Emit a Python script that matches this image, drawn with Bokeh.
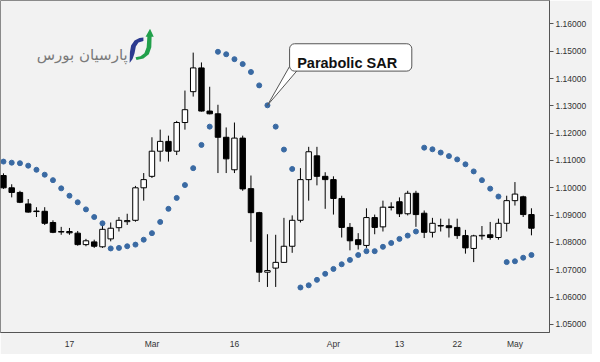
import pandas as pd
from bokeh.plotting import figure
from bokeh.models import (Range1d, FixedTicker, PrintfTickFormatter, ColumnDataSource,
                          Label, BoxAnnotation, PolyAnnotation)
from bokeh.embed import file_html
from bokeh.resources import INLINE

# ---------------- data ----------------
start_date = "2020-02-05"
end_date = "2020-05-05"

opens = [1.1045, 1.1000, 1.0983, 1.0941, 1.0915, 1.0914, 1.0873, 1.0838, 1.0840, 1.0834,
         1.0792, 1.0802, 1.0784, 1.0813, 1.0854, 1.0876, 1.0881, 1.1000, 1.1042, 1.1134,
         1.1170, 1.1134, 1.1239, 1.1352, 1.1439, 1.1281, 1.1271, 1.1185, 1.1066, 1.1182,
         1.0997, 1.0909, 1.0691, 1.0706, 1.0727, 1.0786, 1.0881, 1.1030, 1.1117, 1.1042,
         1.1030, 1.0961, 1.0855, 1.0810, 1.0789, 1.0891, 1.0857, 1.0928, 1.0949, 1.0905,
         1.0980, 1.0907, 1.0837, 1.0862, 1.0861, 1.0855, 1.0825, 1.0778, 1.0824, 1.0828,
         1.0818, 1.0870, 1.0953, 1.0967, 1.0902]
highs = [1.1053, 1.1013, 1.0989, 1.0959, 1.0929, 1.0929, 1.0881, 1.0857, 1.0853, 1.0842,
         1.0813, 1.0810, 1.0864, 1.0873, 1.0893, 1.0905, 1.1007, 1.1054, 1.1185, 1.1213,
         1.1191, 1.1245, 1.1356, 1.1495, 1.1459, 1.1370, 1.1304, 1.1221, 1.1239, 1.1191,
         1.1045, 1.0912, 1.0830, 1.0828, 1.0890, 1.0899, 1.1072, 1.1150, 1.1150, 1.1057,
         1.1042, 1.0971, 1.0871, 1.0834, 1.0925, 1.0902, 1.0953, 1.0947, 1.0965, 1.0989,
         1.0989, 1.0917, 1.0890, 1.0887, 1.0887, 1.0887, 1.0846, 1.0828, 1.0860, 1.0875,
         1.0887, 1.0971, 1.1021, 1.0971, 1.0925]
lows = [1.0996, 1.0965, 1.0944, 1.0909, 1.0893, 1.0864, 1.0834, 1.0828, 1.0828, 1.0788,
        1.0786, 1.0780, 1.0780, 1.0804, 1.0840, 1.0864, 1.0876, 1.0953, 1.1036, 1.1096,
        1.1096, 1.1120, 1.1213, 1.1334, 1.1279, 1.1269, 1.1054, 1.1054, 1.1054, 1.0989,
        1.0802, 1.0655, 1.0637, 1.0637, 1.0725, 1.0762, 1.0873, 1.0953, 1.1009, 1.0923,
        1.0902, 1.0818, 1.0771, 1.0774, 1.0780, 1.0830, 1.0840, 1.0917, 1.0893, 1.0899,
        1.0857, 1.0816, 1.0818, 1.0840, 1.0818, 1.0813, 1.0759, 1.0728, 1.0810, 1.0810,
        1.0810, 1.0840, 1.0935, 1.0893, 1.0826]
closes = [1.1000, 1.0983, 1.0947, 1.0911, 1.0913, 1.0870, 1.0837, 1.0840, 1.0835, 1.0792,
          1.0806, 1.0786, 1.0848, 1.0852, 1.0881, 1.0880, 1.1000, 1.1030, 1.1134, 1.1170,
          1.1134, 1.1239, 1.1286, 1.1439, 1.1281, 1.1271, 1.1185, 1.1106, 1.1182, 1.0996,
          1.0909, 1.0691, 1.0697, 1.0727, 1.0786, 1.0881, 1.1030, 1.1132, 1.1042, 1.1030,
          1.0961, 1.0855, 1.0806, 1.0792, 1.0891, 1.0855, 1.0929, 1.0930, 1.0905, 1.0980,
          1.0902, 1.0837, 1.0870, 1.0860, 1.0854, 1.0825, 1.0780, 1.0824, 1.0826, 1.0818,
          1.0870, 1.0953, 1.0977, 1.0902, 1.0852]
sar = [1.1096, 1.1092, 1.1090, 1.1081, 1.1066, 1.1048, 1.1028, 1.0998, 1.0971, 1.0947,
       1.0921, 1.0893, 1.0870, 1.0778, 1.0780, 1.0786, 1.0792, 1.0810, 1.0834, 1.0875,
       1.0923, 1.0963, 1.1010, 1.1072, 1.1157, 1.1224, 1.1498, 1.1489, 1.1471, 1.1453,
       1.1424, 1.1375, 1.1302, 1.1224, 1.1140, 1.1069, 1.0635, 1.0643, 1.0663, 1.0685,
       1.0703, 1.0720, 1.0736, 1.0754, 1.0768, 1.0768, 1.0784, 1.0798, 1.0813, 1.0825,
       1.0840, 1.1147, 1.1141, 1.1129, 1.1116, 1.1104, 1.1086, 1.1060, 1.1028, 1.0997,
       1.0968, 1.0728, 1.0731, 1.0744, 1.0754]

tick_dates = ["2020-02-17", "2020-03-02", "2020-03-16", "2020-04-01",
              "2020-04-13", "2020-04-22", "2020-05-01"]
tick_labels = ["17", "Mar", "16", "Apr", "13", "22", "May"]
price_ticks = [1.05, 1.06, 1.07, 1.08, 1.09, 1.10, 1.11, 1.12, 1.13, 1.14, 1.15, 1.16]

annotation_text = "Parabolic SAR"
annotation_index = 32
logo_text = "پارسیان بورس"

# ---------------- build ----------------
dates = [d.strftime("%Y-%m-%d") for d in pd.bdate_range(start_date, end_date)]
idx = list(range(len(opens)))
tick_pos = [dates.index(d) for d in tick_dates]

# reference-pixel -> data helpers (for decorations only)
def dx(px):
    return (px - 3) / 8.37

def dy(py):
    return 1.16 - (py - 24) / 2797.0

BG = "#f2f2f2"
p = figure(width=592, height=354,
           x_range=Range1d(dx(0), dx(557)), y_range=Range1d(dy(340), dy(0)),
           output_backend="svg", toolbar_location=None,
           x_axis_location="below", y_axis_location="right",
           min_border_left=0, min_border_top=0, min_border_right=43, min_border_bottom=22)
p.background_fill_color = BG
p.border_fill_color = BG
p.outline_line_color = "#8a8a8a"
p.xgrid.visible = False
p.ygrid.visible = False

p.yaxis.ticker = FixedTicker(ticks=price_ticks)
p.yaxis.formatter = PrintfTickFormatter(format="%.5f")
p.xaxis.ticker = FixedTicker(ticks=tick_pos)
p.xaxis.major_label_overrides = {pos: lab for pos, lab in zip(tick_pos, tick_labels)}
for ax in (p.xaxis[0], p.yaxis[0]):
    ax.axis_line_color = "#555555"
    ax.major_tick_line_color = "#555555"
    ax.minor_tick_line_color = None
    ax.minor_tick_out = 0
    ax.minor_tick_in = 0
    ax.axis_label_standoff = 0
    ax.major_label_text_font = "Liberation Sans"
    ax.major_label_text_font_size = "8.5px"
    ax.major_label_text_color = "#333333"
p.yaxis.major_tick_out = 4
p.yaxis.major_tick_in = 0
p.yaxis.major_label_standoff = 2
p.xaxis.major_tick_line_color = None
p.xaxis.major_tick_out = 0
p.xaxis.major_tick_in = 0
p.xaxis.major_label_standoff = 6

src = ColumnDataSource(dict(
    x=idx, open=opens, high=highs, low=lows, close=closes,
    top=[max(o, c) for o, c in zip(opens, closes)],
    bottom=[min(o, c) for o, c in zip(opens, closes)],
    fill=["white" if c >= o else "black" for o, c in zip(opens, closes)],
))
p.segment(x0="x", y0="low", x1="x", y1="high", source=src, line_color="black", line_width=1)
p.vbar(x="x", width=0.66, top="top", bottom="bottom", source=src,
       fill_color="fill", line_color="black", line_width=1)

p.scatter(x=idx, y=sar, size=5, fill_color="#3a6aa3", line_color="#3a6aa3")

# callout
pointer = PolyAnnotation(xs=[dx(293.3), annotation_index, dx(300.5)],
                         ys=[dy(67.5), sar[annotation_index], dy(72.3)],
                         fill_color="white", fill_alpha=1, line_color="#555555",
                         line_alpha=1, line_width=1)
p.add_layout(pointer)
box = BoxAnnotation(left=dx(293.3), right=dx(417.3), top=dy(44.3), bottom=dy(72.3),
                    fill_color="white", fill_alpha=1, line_color="#555555",
                    line_alpha=1, line_width=1, border_radius=5)
p.add_layout(box)
p.add_layout(Label(x=dx(301), y=dy(64.3), text=annotation_text,
                   text_font="Liberation Sans", text_font_style="bold",
                   text_font_size="14.5px", text_color="#111111",
                   text_align="left", text_baseline="alphabetic"))

# logo
p.add_layout(Label(x=dx(129), y=dy(56), text=logo_text, text_font="DejaVu Sans",
                   text_font_size="15px", text_color="#7a7a7a",
                   text_align="right", text_baseline="alphabetic"))
blue_px = [(131, 64), (131.3, 53), (132.5, 46), (136, 41), (141, 38.5), (145, 38),
           (145, 41.5), (140, 43), (137.3, 47), (136, 54), (134, 60)]
green_px = [(137, 58), (142, 57), (146, 54), (148.3, 48), (149, 37), (147.2, 37),
            (151.7, 29), (155.5, 37), (153.3, 37), (153, 48), (150.5, 55), (145, 59.5), (138, 61)]
p.add_layout(PolyAnnotation(xs=[dx(a) for a, b in blue_px], ys=[dy(b) for a, b in blue_px],
                            fill_color="#2b3a8f", fill_alpha=1, line_alpha=0))
p.add_layout(PolyAnnotation(xs=[dx(a) for a, b in green_px], ys=[dy(b) for a, b in green_px],
                            fill_color="#21a04b", fill_alpha=1, line_alpha=0))

open("out.html", "w").write(file_html(p, INLINE))
